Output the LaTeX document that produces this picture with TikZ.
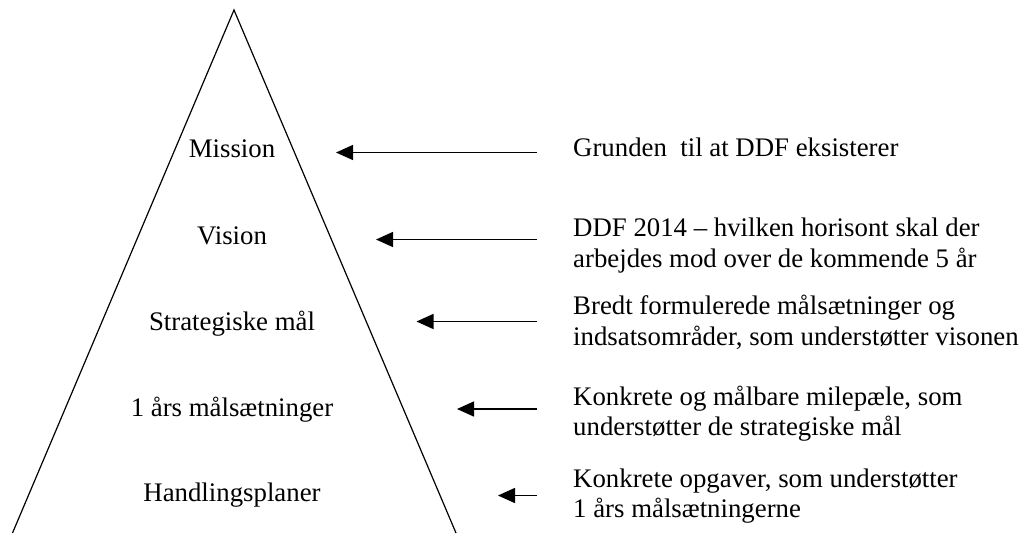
\documentclass[tikz,border=0pt]{standalone}
\usepackage{fontspec}
\setmainfont{Liberation Serif}
\usetikzlibrary{arrows.meta}
\begin{document}
\begin{tikzpicture}[x=1pt,y=-1pt,
  lbl/.style={anchor=base,inner sep=0pt,font=\fontsize{26.8}{30.5}\selectfont},
  txt/.style={anchor=base west,inner sep=0pt,font=\fontsize{26.8}{30.5}\selectfont},
  pointer/.style={-{Triangle[length=17pt,width=15pt]},line width=1.5pt},
  edge/.style={line width=1.2pt,line join=miter}]
\useasboundingbox (0,0) rectangle (1022,533);
% pyramid
\coordinate (apex) at (234,10);
\coordinate (bl) at (12.5,533);
\coordinate (br) at (456,533);
\draw[edge] (bl) -- (apex) -- (br);
% pyramid labels
\node[lbl] (mission) at (232,157) {Mission};
\node[lbl] (vision) at (232,244) {Vision};
\node[lbl] (strat) at (232,330) {Strategiske mål};
\node[lbl] (aar) at (232,416) {1 års målsætninger};
\node[lbl] (handl) at (232,501) {Handlingsplaner};
% arrow ends
\coordinate (t1) at (537,152.5);
\coordinate (p1) at (336,152.5);
\coordinate (t2) at (537,239.5);
\coordinate (p2) at (376,239.5);
\coordinate (t3) at (537,321.5);
\coordinate (p3) at (416.5,321.5);
\coordinate (t4) at (537,409);
\coordinate (p4) at (457,409);
\coordinate (t5) at (537,495.5);
\coordinate (p5) at (498,495.5);
\draw[pointer] (t1) -- (p1);
\draw[pointer] (t2) -- (p2);
\draw[pointer] (t3) -- (p3);
\draw[pointer] (t4) -- (p4);
\draw[pointer] (t5) -- (p5);
% descriptions
\node[txt] (g1) at (573,156) {Grunden\ \ til at DDF eksisterer};
\node[txt] (v1) at (573,236) {DDF 2014 – hvilken horisont skal der};
\node[txt] (v2) at (573,267) {arbejdes mod over de kommende 5 år};
\node[txt] (s1) at (573,314) {Bredt formulerede målsætninger og};
\node[txt] (s2) at (573,345) {indsatsområder, som understøtter visonen};
\node[txt] (a1) at (573,405) {Konkrete og målbare milepæle, som};
\node[txt] (a2) at (573,435.5) {understøtter de strategiske mål};
\node[txt] (h1) at (573,487) {Konkrete opgaver, som understøtter};
\node[txt] (h2) at (573,517) {1 års målsætningerne};
\end{tikzpicture}
\end{document}
